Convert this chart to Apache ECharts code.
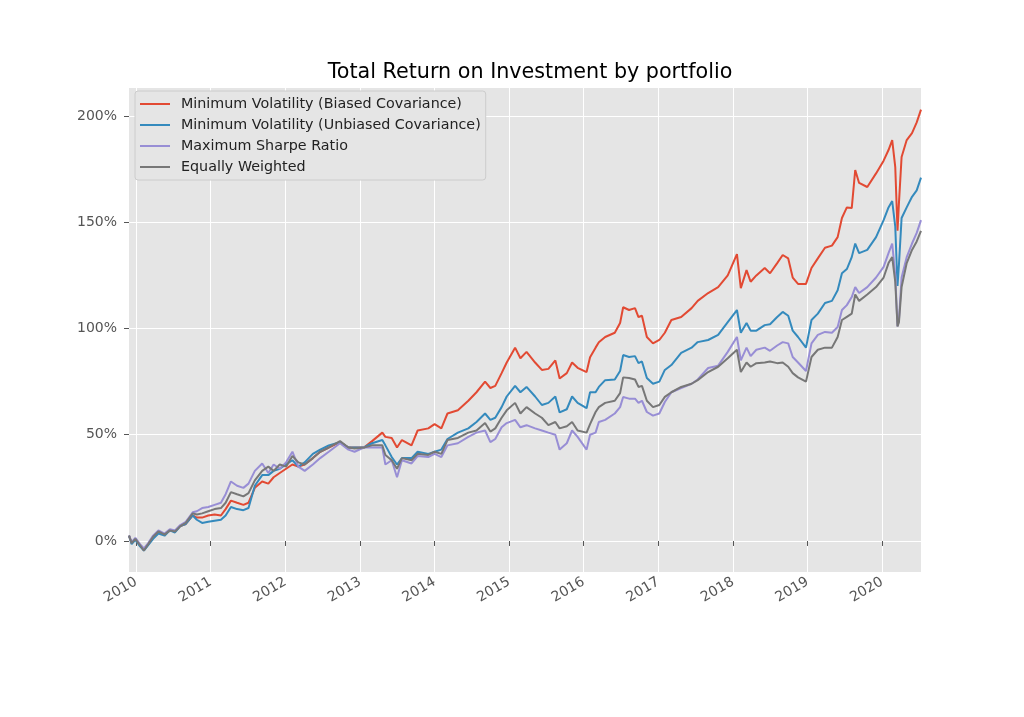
<!DOCTYPE html>
<html>
<head>
<meta charset="utf-8">
<script src="https://cdn.jsdelivr.net/npm/echarts@6/dist/echarts.min.js"></script>
<style>
html,body{margin:0;padding:0;background:#fff;}
#chart{width:1024px;height:717px;}
</style>
</head>
<body>
<div id="chart"></div>
<script>
// ---- data (% total return) ----
const dates = [
  '2009-11-27','2009-12-10','2009-12-28','2010-01-20','2010-02-08','2010-03-01','2010-03-25','2010-04-20','2010-05-20','2010-06-15','2010-07-10','2010-08-05','2010-09-01','2010-10-05','2010-10-25','2010-11-20','2010-12-20',
  '2011-01-20','2011-02-20','2011-03-15','2011-04-10','2011-05-10','2011-06-10','2011-07-05','2011-08-05','2011-09-10','2011-10-10','2011-11-05','2011-12-05',
  '2012-01-05','2012-02-05','2012-03-05','2012-04-05','2012-05-15','2012-06-20','2012-08-01','2012-09-25','2012-11-05','2012-12-05',
  '2013-01-20','2013-03-01','2013-04-20','2013-05-05','2013-06-05','2013-07-01','2013-07-25','2013-09-10','2013-10-10','2013-12-01',
  '2014-01-01','2014-02-03','2014-03-05','2014-04-25','2014-06-15','2014-07-25','2014-09-05','2014-10-01','2014-10-25','2014-11-25','2014-12-20',
  '2015-01-30','2015-02-25','2015-03-27','2015-05-08','2015-06-10','2015-07-12','2015-08-15','2015-09-05','2015-10-10','2015-11-05','2015-12-02',
  '2016-01-15','2016-02-01','2016-02-28','2016-03-15','2016-04-15','2016-06-01','2016-06-27','2016-07-12','2016-08-10','2016-09-08','2016-09-25','2016-10-12','2016-11-05','2016-12-05',
  '2017-01-05','2017-02-01','2017-03-05','2017-04-22','2017-06-12','2017-07-12','2017-09-01','2017-10-20','2017-12-06',
  '2018-01-20','2018-02-08','2018-03-08','2018-03-28','2018-04-25','2018-06-05','2018-07-01','2018-08-05','2018-09-01','2018-09-28','2018-10-20','2018-11-15','2018-12-24',
  '2019-01-20','2019-02-20','2019-03-27','2019-04-30','2019-05-28','2019-06-18','2019-07-12','2019-08-05','2019-08-22','2019-09-10','2019-10-20','2019-12-02',
  '2020-01-08','2020-02-01','2020-02-19','2020-03-05','2020-03-16','2020-03-23','2020-04-05','2020-04-30','2020-05-26','2020-06-18','2020-07-09'
];
const minVolBiased = [
  2.5,-1,1,-2,-4,-1.5,1.5,4,3,5,4.5,7,8,12,11,11,12,
  12.5,12,15,19,18,17,18,25,28,27,30,32,
  34,36,35,36,39,42,44,46.5,44,44,
  44,47,51,49,48.5,44,47.5,45,52,53,
  55,53,60,61.5,66,70,75,72,73,79,84,
  91,86,89,84,80.5,81,85,76.5,79,84,81.5,
  79.5,86.5,91,93.5,96,98,102.6,110,108.7,109.6,105.4,106,96,93,
  94.6,98,104,105.4,109.6,113,116.7,119.5,125,
  135,119,127.5,122,125,128.5,126,130.8,134.6,133,124,121,121,
  128.5,133,138,139,143,152,157,156.7,174.6,168.5,166.6,173,
  179,184,188.7,176,146,159,180.7,188.7,192,197,203
];
const minVolUnbiased = [
  2.5,-1.5,0.5,-2.5,-4.5,-2,1,3.5,2.5,5,4,7,8,12,10,8.5,9,
  9.5,10,12,16,15,14.5,15.5,26,31,31,33,34,
  36,38,35,37,41,43,45,46.5,44,44,
  44,46,47.5,45,39.5,36,39,39,42,41,
  42,43,48,51,53,56,60,57,58,63,68,
  73,70,72.5,68,64,65,68,60.5,62,68,65,
  62.5,70,70,72.5,75.7,76,80,87.5,86.6,87,83.7,84.5,76.7,74,
  75,80.5,82.8,88.5,91,93.6,94.6,97,103,
  108.7,98,102.6,99,99,101.6,102,105.4,107.8,106,99,96,91,
  104,107,112,113,118,126,128,133.6,140,135.5,137,143,
  151,157,160,148,120,130,152,157,162,165,171
];
const maxSharpe = [
  2.5,-0.5,1.5,-1.5,-3.5,-1,2.5,5,3.5,5.5,5,7.5,9,13.5,14,15.5,16,
  17,18,22,28,26,25,27,33,36.5,32,36,34,
  37,42,35,33,36,39,42,46,43,42,
  44,44,44,36,38,30,38,36.5,40,39.5,
  41,39.5,45,46,49,51,52,46.5,48,53.5,55.5,
  57,53.5,54.5,53,52,51,50,43,46,52,49,
  43,50,51,56,57,60,63,67.8,67,67,65,66,60.7,59,
  60,65.4,70,72,74,76,81.4,82.5,89,
  96,85,91,87,90,91,89.5,92,93.6,93,86.6,84,80,
  93,97,98.4,98,100.7,108.7,111,114.8,119.5,116.7,119.5,124,
  129,135.5,140,125,101,104,124,133.6,140,145,151
];
const equalWeighted = [
  2.5,-1,1,-2,-4.5,-1.5,2,4.5,3,5,4.5,7,8.5,13,12.5,13,14,
  15,15.5,18,23,22,21,22.5,28.5,33,35,33,36,
  35,40,37,36,39,42,44,47,44,43.5,
  44,45,45,40.5,38,34,39,38,41,40.5,
  42,41,47.5,48.5,51,52,55.5,51.5,53,58,61.5,
  65,60,63,60,58,54.5,56,53,54,56,52,
  51,55,60.7,63,65,66,69.6,77,76.7,76,72.5,73,66,63,
  64,67.8,70,72.5,74,75.7,79.5,82,86,
  90,79.5,84,82,83.7,84,84.5,83.7,84,82,79,77,75,
  86.6,90,91,91,96,104,105.5,107,116,113,116,119.5,
  124,130.8,133.6,122,101,103,119.5,130.8,137,141,146
];
const seriesNames = [
  'Minimum Volatility (Biased Covariance)',
  'Minimum Volatility (Unbiased Covariance)',
  'Maximum Sharpe Ratio',
  'Equally Weighted'
];
const yearLabels = ['2010','2011','2012','2013','2014','2015','2016','2017','2018','2019','2020'];
const yTickValues = [0, 50, 100, 150, 200];

// ---- chart ----
const colors = ['#E24A33', '#348ABD', '#988ED5', '#777777'];
const values = [minVolBiased, minVolUnbiased, maxSharpe, equalWeighted];
const toTime = s => Date.parse(s + 'T00:00:00Z');
const yearTicks = yearLabels.map(y => Date.UTC(+y, 0, 1));
const font = 'DejaVu Sans';

const chart = echarts.init(document.getElementById('chart'), null, {renderer: 'canvas'});
chart.setOption({
  backgroundColor: '#FFFFFF',
  animation: false,
  title: {
    text: 'Total Return on Investment by portfolio',
    left: 525, top: 57, textAlign: 'center',
    textStyle: {fontFamily: font, fontSize: 20.7, fontWeight: 'normal', color: '#000000'}
  },
  legend: {
    left: 135, top: 91, orient: 'vertical',
    data: seriesNames,
    icon: 'rect', itemWidth: 30, itemHeight: 2, itemGap: 5,
    padding: [5, 5, 5, 5],
    backgroundColor: '#E5E5E5', borderColor: '#CCCCCC', borderWidth: 1, borderRadius: 3,
    textStyle: {fontFamily: font, fontSize: 14.3, color: '#222222', lineHeight: 16, padding: [0, 0, 0, 6]}
  },
  grid: {left: 129, right: 103, top: 88, bottom: 145, show: true, backgroundColor: '#E5E5E5', borderWidth: 0},
  xAxis: {
    type: 'value',
    min: toTime('2009-11-27'), max: toTime('2020-07-09'),
    axisLine: {show: false},
    axisTick: {show: true, length: 5, lineStyle: {color: '#555555'}, customValues: yearTicks},
    axisLabel: {
      customValues: yearTicks, rotate: 30, margin: 9,
      fontFamily: font, fontSize: 14, color: '#555555',
      formatter: v => String(new Date(v).getUTCFullYear())
    },
    splitLine: {show: true, lineStyle: {color: '#FFFFFF', width: 1}}
  },
  yAxis: {
    type: 'value',
    min: -14.6, max: 213.2,
    axisLine: {show: false},
    axisTick: {show: true, length: 5, lineStyle: {color: '#555555'}, customValues: yTickValues},
    axisLabel: {
      customValues: yTickValues, margin: 12,
      fontFamily: font, fontSize: 14, color: '#555555',
      formatter: v => v + '%'
    },
    splitLine: {show: true, lineStyle: {color: '#FFFFFF', width: 1}}
  },
  series: values.map((arr, k) => ({
    name: seriesNames[k],
    type: 'line',
    showSymbol: false,
    symbol: 'none',
    color: colors[k],
    lineStyle: {width: 2, color: colors[k]},
    data: dates.map((d, i) => [toTime(d), arr[i]])
  }))
});
</script>
</body>
</html>
